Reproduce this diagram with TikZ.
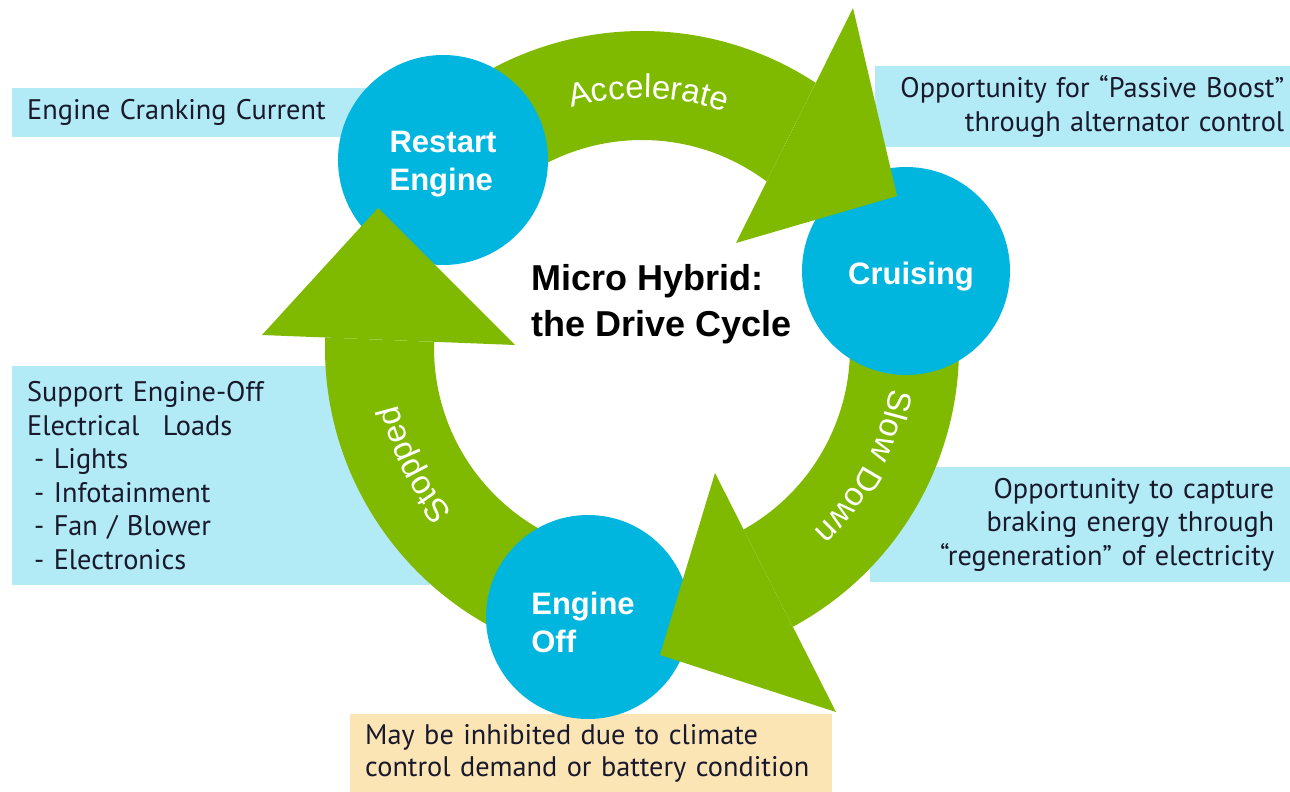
\documentclass[tikz,border=0pt]{standalone}
\usepackage{fontspec}
\setmainfont{PT Sans}
\newfontfamily\arialfont{Liberation Sans}
\usetikzlibrary{decorations.text}
\definecolor{cyclegreen}{RGB}{127,186,0}
\definecolor{stageblue}{RGB}{0,182,222}
\definecolor{noteblue}{RGB}{178,234,245}
\definecolor{notepeach}{RGB}{252,229,180}
\definecolor{notetext}{RGB}{25,25,45}
\newcommand{\bandfont}{\arialfont\fontsize{33}{33}\selectfont}

\begin{document}
\begin{tikzpicture}[x=1pt,y=-1pt,
  stage/.style={circle,fill=stageblue,minimum size=210pt,inner sep=0pt},
  stagetext/.style={inner sep=0pt,text=white,align=left,
    font=\arialfont\bfseries\fontsize{31}{38}\selectfont},
  note/.style={fill=noteblue,anchor=north west,inner xsep=15pt,inner ysep=0pt,
    text=notetext,font=\fontsize{28.3}{33.5}\selectfont},
  band/.style={fill=cyclegreen},
  bandtext/.style={decorate,decoration={text along path,text align=center,
    text color=white,text={|\bandfont|#1}}}]
  \useasboundingbox (0,0) rectangle (1290,792);

  % side notes
  \node[note,minimum width=360pt,minimum height=49pt,text width=330pt,align=left]
    (crank) at (12,88) {Engine Cranking Current};
  \node[note,minimum width=415pt,minimum height=81pt,text width=403pt,inner xsep=6pt,align=right]
    (boost) at (875,66) {Opportunity for “Passive Boost”\\through alternator control};
  \node[note,minimum width=418pt,minimum height=219pt,text width=388pt,align=left]
    (loads) at (12,366) {Support Engine-Off\\Electrical\hspace{0.5em} Loads\\
      \hspace{7pt}- Lights\\\hspace{7pt}- Infotainment\\\hspace{7pt}- Fan / Blower\\\hspace{7pt}- Electronics};
  \node[note,minimum width=420pt,minimum height=115pt,text width=388pt,inner xsep=16pt,align=right]
    (regen) at (870,467) {Opportunity to capture\\braking energy through\\“regeneration” of electricity};
  \node[note,fill=notepeach,minimum width=482pt,minimum height=78pt,text width=452pt,align=left,
    font=\fontsize{28.3}{32}\selectfont]
    (inhibit) at (350,714) {May be inhibited due to climate\\control demand or battery condition};

  % cycle arrows
  \begin{scope}[shift={(642,348)}]
    \fill[band] (-137:317) arc[start angle=-137,end angle=-56.78,radius=317]
      -- (-53.2:208) arc[start angle=-53.2,end angle=-137,radius=208] -- cycle;
    \fill[band] (-16.5:317) arc[start angle=-16.5,end angle=61.58,radius=317]
      -- (60.76:208) arc[start angle=60.76,end angle=-16.5,radius=208] -- cycle;
    \fill[band] (101.4:317) arc[start angle=101.4,end angle=181.9,radius=317]
      -- (181.7:208) arc[start angle=181.7,end angle=101.4,radius=208] -- cycle;
  \end{scope}

  % stages
  \node[stage] (restart) at (443,160) {};
  \node[stage,minimum size=208pt] (cruise) at (906,271) {};
  \node[stage,minimum size=204pt] (off) at (588,617) {};
  \node[stagetext] (restarttext) at ([yshift=-4pt]restart) {Restart\\Engine};
  \node[stagetext] (cruisetext) at ([xshift=5pt,yshift=-6pt]cruise) {Cruising};
  \node[stagetext] (offtext) at ([xshift=-5pt,yshift=-5pt]off) {Engine\\Off};

  % arrow heads over the stages
  \begin{scope}[shift={(642,348)}]
    \fill[band] (211,-340) -- (255,-152) -- (94,-105) -- cycle;
    \fill[band] (194,364) -- (18,307) -- (73,125) -- cycle;
    \fill[band] (-380,-13) -- (-264,-140) -- (-127,-3) -- cycle;
    \path[bandtext=Accelerate] (-118:250) arc[start angle=-118,end angle=-59,radius=250];
    \path[bandtext=Slow Down] (3:251) arc[start angle=3,end angle=53,radius=251];
    \path[bandtext=Stopped] (128:251) arc[start angle=128,end angle=178,radius=251];
  \end{scope}

  \node[anchor=west,inner sep=0pt,align=left,font=\arialfont\bfseries\fontsize{36}{46}\selectfont]
    (title) at (531,304) {Micro Hybrid:\\the Drive Cycle};
\end{tikzpicture}
\end{document}
